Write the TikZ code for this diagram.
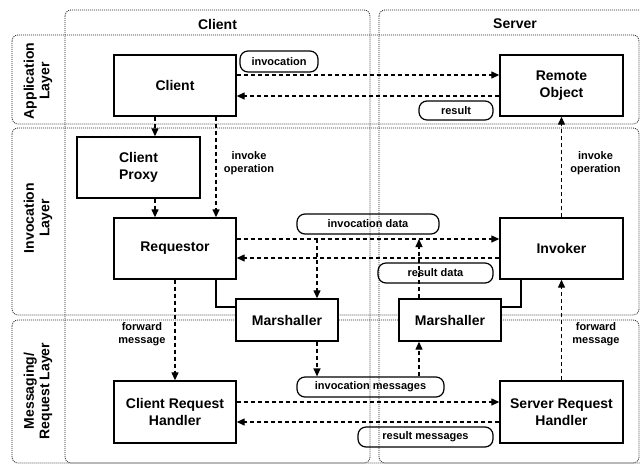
\documentclass[tikz,border=0pt]{standalone}
\usepackage{fontspec}
\setmainfont{Liberation Sans}
\usetikzlibrary{arrows.meta}
\begin{document}
\begin{tikzpicture}[x=1pt,y=-1pt,
  frame/.style={draw=black!85, line width=0.8pt, dash pattern=on 1pt off 1pt, rounded corners=6pt},
  comp/.style={draw, line width=1.4pt, fill=white, font=\fontsize{14}{16.5}\selectfont\bfseries, align=center, inner sep=0pt},
  tag/.style={draw, line width=1.2pt, rounded corners=8pt, font=\fontsize{11}{13}\selectfont\bfseries, align=center, inner sep=0pt},
  note/.style={font=\fontsize{11}{13.5}\selectfont\bfseries, align=center, inner sep=0pt},
  rowlab/.style={font=\fontsize{14}{15.5}\selectfont\bfseries, align=center, rotate=90, inner sep=0pt},
  head/.style={font=\fontsize{14}{16}\selectfont\bfseries, inner sep=0pt},
  dar/.style={line width=1.3pt, dash pattern=on 4pt off 3pt, -{Triangle[length=8pt,width=7pt]}},
  solidline/.style={line width=1.4pt}
]
\useasboundingbox (0,0) rectangle (640,467);
\clip (0,0) rectangle (640,467);
% frames
\draw[frame] (65,10) rectangle (370,463);
\draw[frame] (379,10) rectangle (660,463);
\draw[frame] (12,35) rectangle (639,124);
\draw[frame] (12,128) rectangle (639,315);
\draw[frame] (12,320) rectangle (639,463);
\node[head] (hc) at (217.5,24) {Client};
\node[head] (hs) at (515,24) {Server};
\node[rowlab] (la) at (38,81) {Application\\Layer};
\node[rowlab] (li) at (38,218) {Invocation\\Layer};
\node[rowlab] (lm) at (38,391) {Messaging/\\Request Layer};
% components
\node[comp, minimum width=122pt, minimum height=61pt] (Client) at (175,85.5) {Client};
\node[comp, minimum width=123pt, minimum height=61pt] (Remote) at (561.5,85.5) {Remote\\Object};
\node[comp, minimum width=123pt, minimum height=61pt] (CProxy) at (138.5,167.5) {Client\\Proxy};
\node[comp, minimum width=122pt, minimum height=61pt] (Req) at (175,248.5) {Requestor};
\node[comp, minimum width=123pt, minimum height=61pt] (Inv) at (561.5,248.5) {Invoker};
\node[comp, minimum width=102pt, minimum height=42pt] (ML) at (287,320) {Marshaller};
\node[comp, minimum width=102pt, minimum height=42pt] (MR) at (450,320) {Marshaller};
\node[comp, minimum width=122pt, minimum height=62pt] (CRH) at (175,412) {Client Request\\Handler};
\node[comp, minimum width=123pt, minimum height=62pt] (SRH) at (561.5,412) {Server Request\\Handler};
% tags
\node[tag, minimum width=78pt, minimum height=21pt] (tinv) at (279,61.5) {invocation};
\node[tag, minimum width=74pt, minimum height=19pt] (tres) at (456,110.5) {result};
\node[tag, minimum width=142pt, minimum height=20pt] (tid) at (368,224) {invocation data};
\node[tag, minimum width=115pt, minimum height=20pt] (trd) at (435.5,273) {result data};
\node[tag, minimum width=147pt, minimum height=20pt] (tim) at (370.5,387) {invocation messages};
\node[tag, minimum width=135pt, minimum height=20pt] (trm) at (425.5,437) {result messages};
% notes
\node[note] (n1) at (249,163) {invoke\\operation};
\node[note] (n2) at (595.5,163) {invoke\\operation};
\node[note] (n3) at (142,334) {forward\\message};
\node[note] (n4) at (596,334) {forward\\message};
% tap coordinates
\coordinate (idtap) at (317,239);
\coordinate (rdtap) at (419,239);
% horizontal connectors
\draw[dar] (Client.east |- 0,75) -- (Remote.west |- 0,75);
\draw[dar] (Remote.west |- 0,96) -- (Client.east |- 0,96);
\draw[dar] (Req.east |- 0,239) -- (Inv.west |- 0,239);
\draw[dar] (Inv.west |- 0,258) -- (Req.east |- 0,258);
\draw[dar] (CRH.east |- 0,402) -- (SRH.west |- 0,402);
\draw[dar] (SRH.west |- 0,422) -- (CRH.east |- 0,422);
% vertical connectors
\draw[dar] (Client.south -| 155,0) -- (CProxy.north -| 155,0);
\draw[dar] (CProxy.south -| 155,0) -- (Req.north -| 155,0);
\draw[dar] (Client.south -| 216,0) -- (Req.north -| 216,0);
\draw[dar] (Inv.north) -- (Remote.south);
\draw[dar] (Req.south) -- (CRH.north);
\draw[dar] (SRH.north) -- (Inv.south);
\draw[dar] (idtap) -- (ML.north -| idtap);
\draw[dar] (MR.north -| rdtap) -- (rdtap);
\draw[dar] (ML.south -| idtap) -- (tim.north -| idtap);
\draw[dar] (tim.north -| rdtap) -- (MR.south -| rdtap);
% solid links to marshallers
\draw[solidline] (Req.south -| 216,0) |- (ML.west |- 0,307);
\draw[solidline] (Inv.south -| 521,0) |- (MR.east |- 0,307);
\end{tikzpicture}
\end{document}
